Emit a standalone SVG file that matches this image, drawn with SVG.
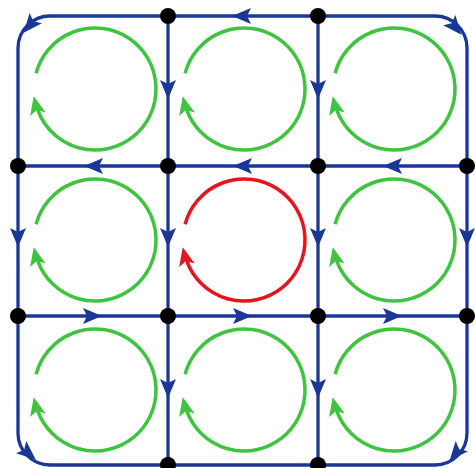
<svg xmlns="http://www.w3.org/2000/svg" xmlns:xlink="http://www.w3.org/1999/xlink" width="475" height="468" viewBox="0 0 475 468">
<style>
.edge{fill:none;stroke:#1a3798;stroke-width:3.3}
.ab{fill:#1a3798}
.loop{fill:none;stroke:#3ec43e;stroke-width:3.5}
.ag{fill:#3ec43e}
.red .loop{stroke:#e8141c}
.red .ag{fill:#e8141c}
.dot{fill:#000}
</style>
<defs>
<path id="ah" d="M10,0 L-9,-8 L-5,0 L-9,8 Z"/>
<path id="ahg" d="M10,0 L-8.5,-8 L-4,0 L-8.5,8 Z"/>
<path id="arc" d="M-58.9,-15.8 A61,61 0 1 1 -57.3,20.9"/>
</defs>
<rect width="475" height="468" fill="#fff"/>
<g id="connectors">
<rect class="edge" x="18" y="16" width="449" height="449" rx="32" ry="32"/>
<line class="edge" x1="168" y1="16" x2="168" y2="465"/>
<line class="edge" x1="318" y1="16" x2="318" y2="465"/>
<line class="edge" x1="18" y1="166" x2="467" y2="166"/>
<line class="edge" x1="18" y1="316" x2="467" y2="316"/>
<use class="ab" xlink:href="#ah" transform="translate(242,16) rotate(180)"/>
<use class="ab" xlink:href="#ah" transform="translate(94,166) rotate(180)"/>
<use class="ab" xlink:href="#ah" transform="translate(243,166) rotate(180)"/>
<use class="ab" xlink:href="#ah" transform="translate(393,166) rotate(180)"/>
<use class="ab" xlink:href="#ah" transform="translate(92,316)"/>
<use class="ab" xlink:href="#ah" transform="translate(242,316)"/>
<use class="ab" xlink:href="#ah" transform="translate(392,316)"/>
<use class="ab" xlink:href="#ah" transform="translate(168,89) rotate(90)"/>
<use class="ab" xlink:href="#ah" transform="translate(168,237) rotate(90)"/>
<use class="ab" xlink:href="#ah" transform="translate(168,388) rotate(90)"/>
<use class="ab" xlink:href="#ah" transform="translate(318,89) rotate(90)"/>
<use class="ab" xlink:href="#ah" transform="translate(318,237) rotate(90)"/>
<use class="ab" xlink:href="#ah" transform="translate(318,388) rotate(90)"/>
<use class="ab" xlink:href="#ah" transform="translate(18,237) rotate(90)"/>
<use class="ab" xlink:href="#ah" transform="translate(467,237) rotate(90)"/>
<use class="ab" xlink:href="#ah" transform="translate(30,25) rotate(130)"/>
<use class="ab" xlink:href="#ah" transform="translate(455,27) rotate(50)"/>
<use class="ab" xlink:href="#ah" transform="translate(28,453) rotate(40)"/>
<use class="ab" xlink:href="#ah" transform="translate(456,453) rotate(130)"/>
</g>
<g id="loop-1-1" transform="translate(95,89)"><use class="loop" xlink:href="#arc"/><use class="ag" xlink:href="#ahg" transform="translate(-59,17) rotate(-103)"/></g>
<g id="loop-1-2" transform="translate(244,89)"><use class="loop" xlink:href="#arc"/><use class="ag" xlink:href="#ahg" transform="translate(-59,17) rotate(-103)"/></g>
<g id="loop-1-3" transform="translate(394,89)"><use class="loop" xlink:href="#arc"/><use class="ag" xlink:href="#ahg" transform="translate(-59,17) rotate(-103)"/></g>
<g id="loop-2-1" transform="translate(95,240)"><use class="loop" xlink:href="#arc"/><use class="ag" xlink:href="#ahg" transform="translate(-59,17) rotate(-103)"/></g>
<g id="loop-2-2" class="red" transform="translate(244,240)"><use class="loop" xlink:href="#arc"/><use class="ag" xlink:href="#ahg" transform="translate(-59,17) rotate(-103)"/></g>
<g id="loop-2-3" transform="translate(394,240)"><use class="loop" xlink:href="#arc"/><use class="ag" xlink:href="#ahg" transform="translate(-59,17) rotate(-103)"/></g>
<g id="loop-3-1" transform="translate(95,390)"><use class="loop" xlink:href="#arc"/><use class="ag" xlink:href="#ahg" transform="translate(-59,17) rotate(-103)"/></g>
<g id="loop-3-2" transform="translate(244,390)"><use class="loop" xlink:href="#arc"/><use class="ag" xlink:href="#ahg" transform="translate(-59,17) rotate(-103)"/></g>
<g id="loop-3-3" transform="translate(394,390)"><use class="loop" xlink:href="#arc"/><use class="ag" xlink:href="#ahg" transform="translate(-59,17) rotate(-103)"/></g>
<g id="n-0-1"><circle class="dot" cx="168" cy="16" r="8"/></g>
<g id="n-0-2"><circle class="dot" cx="318" cy="16" r="8"/></g>
<g id="n-1-0"><circle class="dot" cx="18" cy="166" r="8"/></g>
<g id="n-1-1"><circle class="dot" cx="168" cy="166" r="8"/></g>
<g id="n-1-2"><circle class="dot" cx="318" cy="166" r="8"/></g>
<g id="n-1-3"><circle class="dot" cx="467" cy="166" r="8"/></g>
<g id="n-2-0"><circle class="dot" cx="18" cy="316" r="8"/></g>
<g id="n-2-1"><circle class="dot" cx="168" cy="316" r="8"/></g>
<g id="n-2-2"><circle class="dot" cx="318" cy="316" r="8"/></g>
<g id="n-2-3"><circle class="dot" cx="467" cy="316" r="8"/></g>
<g id="n-3-1"><circle class="dot" cx="168" cy="465" r="8"/></g>
<g id="n-3-2"><circle class="dot" cx="318" cy="465" r="8"/></g>
</svg>
